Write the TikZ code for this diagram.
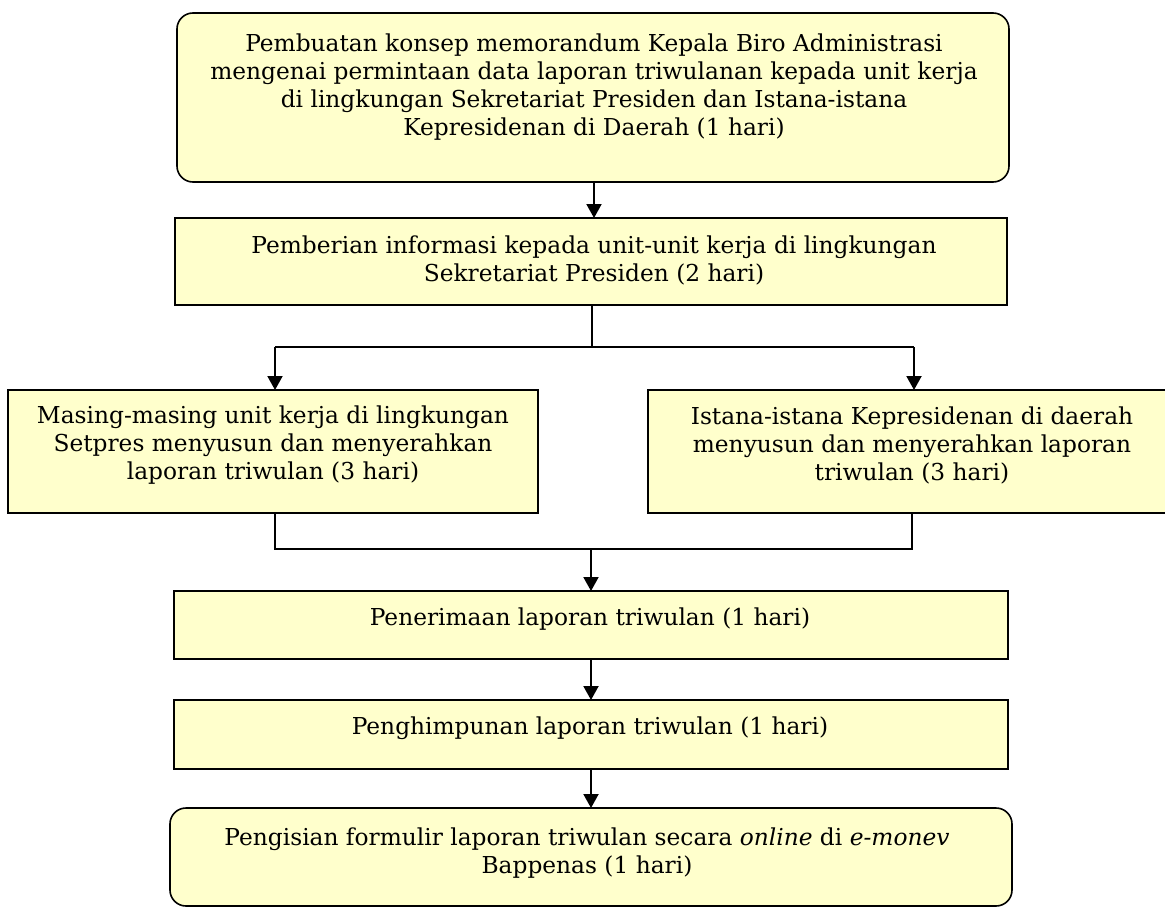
\documentclass[tikz,border=0pt]{standalone}
\usepackage{fontspec}
\setmainfont{DejaVu Serif}
\usetikzlibrary{arrows.meta}
\definecolor{boxfill}{HTML}{FFFFCC}
\begin{document}
\begin{tikzpicture}[x=1bp,y=-1bp,
  box/.style={draw=black, line width=1.6bp, fill=boxfill, inner sep=0pt, outer sep=0pt},
  rbox/.style={box, rounded corners=16bp},
  txt/.style={align=center, inner sep=0pt, font=\fontsize{23.3bp}{28bp}\selectfont},
  arr/.style={line width=2bp, -{Triangle[length=14bp,width=15bp]}},
  ln/.style={line width=1.6bp},
  thinln/.style={line width=1.1bp}]
\useasboundingbox (0,0) rectangle (1165,907);
% boxes
\node[rbox, minimum width=832bp, minimum height=169bp] (b1) at (593,97.5) {};
\node[box, minimum width=832bp, minimum height=87bp] (b2) at (591,261.5) {};
\node[box, minimum width=530bp, minimum height=123bp] (b3) at (273,451.5) {};
\node[box, minimum width=532bp, minimum height=123bp] (b4) at (914,451.5) {};
\node[box, minimum width=834bp, minimum height=68bp] (b5) at (591,625) {};
\node[box, minimum width=834bp, minimum height=69bp] (b6) at (591,734.5) {};
\node[rbox, minimum width=842bp, minimum height=98bp] (b7) at (591,857) {};
% texts
\node[txt] (t1) at (594,87) {Pembuatan konsep memorandum Kepala Biro Administrasi\\mengenai permintaan data laporan triwulanan kepada unit kerja\\di lingkungan Sekretariat Presiden dan Istana-istana\\Kepresidenan di Daerah (1 hari)};
\node[txt] (t2) at (594,260) {Pemberian informasi kepada unit-unit kerja di lingkungan\\Sekretariat Presiden (2 hari)};
\node[txt] (t3) at (273,445) {Masing-masing unit kerja di lingkungan\\Setpres menyusun dan menyerahkan\\laporan triwulan (3 hari)};
\node[txt] (t4) at (912,445) {Istana-istana Kepresidenan di daerah\\menyusun dan menyerahkan laporan\\triwulan (3 hari)};
\node[txt] (t5) at (590,619) {Penerimaan laporan triwulan (1 hari)};
\node[txt] (t6) at (590,728) {Penghimpunan laporan triwulan (1 hari)};
\node[txt] (t7) at (587,853) {Pengisian formulir laporan triwulan secara \textit{online} di \textit{e-monev}\\Bappenas (1 hari)};
% connectors
\coordinate (a1) at (594,182);
\draw[arr] (a1) -- (a1 |- b2.north);
\coordinate (j1) at (592,347);
\draw[thinln] (j1 |- b2.south) -- (j1);
\coordinate (jl) at (275,347);
\coordinate (jr) at (914,347);
\draw[ln] (jl) -- (jr);
\draw[arr] (jl) -- (jl |- b3.north);
\draw[arr] (jr) -- (jr |- b4.north);
\coordinate (kl) at (275,549);
\coordinate (kr) at (912,549);
\coordinate (k) at (591,549);
\draw[ln] (kl |- b3.south) -- (kl) -- (kr) -- (kr |- b4.south);
\draw[arr] (k) -- (b5.north);
\draw[arr] (b5.south) -- (b6.north);
\draw[arr] (b6.south) -- (b7.north);
\end{tikzpicture}
\end{document}
